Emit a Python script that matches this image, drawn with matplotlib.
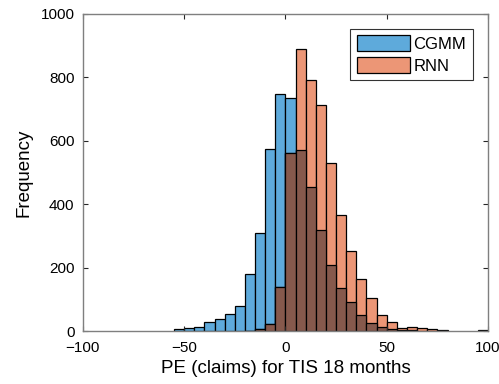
import numpy as np
import matplotlib
matplotlib.use("Agg")
import matplotlib.pyplot as plt

plt.rcParams['font.family'] = ['Liberation Sans', 'DejaVu Sans']

# bin edges every 5 claims from -100 to 100
bin_edges = np.arange(-100, 101, 5)

# counts per bin, keyed by the bin's left edge
cgmm_left = [-55, -50, -45, -40, -35, -30, -25, -20, -15, -10, -5, 0, 5, 10,
             15, 20, 25, 30, 35, 40, 45, 50, 55, 60, 95]
cgmm_count = [5, 10, 13, 29, 37, 55, 80, 179, 308, 574, 748, 736, 570, 453,
              319, 207, 135, 90, 50, 24, 12, 6, 3, 2, 4]

rnn_left = [-20, -15, -10, -5, 0, 5, 10, 15, 20, 25, 30, 35, 40, 45, 50, 55,
            60, 65, 70, 75]
rnn_count = [1, 6, 22, 138, 562, 890, 790, 712, 530, 365, 252, 163, 103, 50,
             29, 8, 14, 9, 5, 4]

series_names = ["CGMM", "RNN"]

BLUE = "#5eaadb"
ORANGE = "#ec9676"
BROWN = "#86594c"
AXCOL = "#262626"


def full_counts(lefts, counts):
    out = np.zeros(len(bin_edges) - 1)
    for l, c in zip(lefts, counts):
        out[int((l - bin_edges[0]) // 5)] = c
    return out


cg = full_counts(cgmm_left, cgmm_count)
rn = full_counts(rnn_left, rnn_count)
overlap = np.minimum(cg, rn)
left = bin_edges[:-1]
width = bin_edges[1] - bin_edges[0]

fig = plt.figure(figsize=(4.99, 3.84), dpi=100)
ax = fig.add_axes([0.166, 0.138, 0.812, 0.826])

kw = dict(width=width, align="edge", edgecolor="black", linewidth=0.9)
m = cg > 0
ax.bar(left[m], cg[m], color=BLUE, label=series_names[0], **kw)
m = rn > 0
ax.bar(left[m], rn[m], color=ORANGE, label=series_names[1], **kw)
m = overlap > 0
ax.bar(left[m], overlap[m], color=BROWN, **kw)

ax.set_xlim(-100, 100)
ax.set_ylim(0, 1000)
ax.set_xticks([-100, -50, 0, 50, 100])
ax.set_yticks(np.arange(0, 1001, 200))
ax.tick_params(direction="in", top=True, right=True, length=3.5,
               labelsize=11, colors=AXCOL, labelcolor="black")
ax.tick_params(axis="x", pad=7)
ax.tick_params(axis="y", pad=6)
for s in ax.spines.values():
    s.set_color("#7f7f7f")
    s.set_linewidth(1.0)
ax.set_xlabel("PE (claims) for TIS 18 months", fontsize=13.5, labelpad=4)
ax.set_ylabel("Frequency", fontsize=13.5, labelpad=6)

leg = ax.legend(loc="upper right", fontsize=12, frameon=True, fancybox=False,
                edgecolor="black", handlelength=3.2, handleheight=1.1,
                borderpad=0.4, labelspacing=0.3, handletextpad=0.2,
                borderaxespad=0.9)
leg.get_frame().set_linewidth(0.8)

fig.savefig("out.png", dpi=100)
